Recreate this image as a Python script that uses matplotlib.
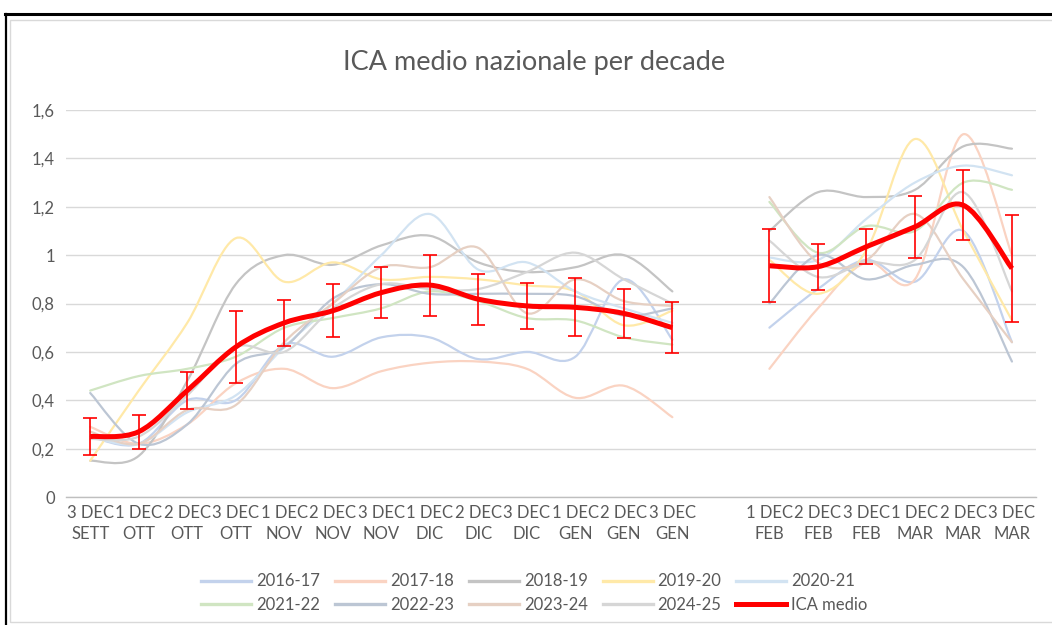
"""ICA medio nazionale per decade - smoothed season lines with mean and error bars."""

import numpy as np
import matplotlib
matplotlib.use("Agg")
import matplotlib.pyplot as plt
from matplotlib.path import Path
from matplotlib.patches import PathPatch, Rectangle
from matplotlib.lines import Line2D
from matplotlib.ticker import FuncFormatter

nan = np.nan

categories = [
    "3 DEC\nSETT", "1 DEC\nOTT", "2 DEC\nOTT", "3 DEC\nOTT",
    "1 DEC\nNOV", "2 DEC\nNOV", "3 DEC\nNOV",
    "1 DEC\nDIC", "2 DEC\nDIC", "3 DEC\nDIC",
    "1 DEC\nGEN", "2 DEC\nGEN", "3 DEC\nGEN", "",
    "1 DEC\nFEB", "2 DEC\nFEB", "3 DEC\nFEB",
    "1 DEC\nMAR", "2 DEC\nMAR", "3 DEC\nMAR",
]

s2016_17 = [0.25, 0.22, 0.40, 0.40, 0.63, 0.58, 0.66, 0.66, 0.57, 0.60, 0.58, 0.90, 0.65, nan, 0.70, 0.86, 0.98, 0.89, 1.10, 0.64]
s2017_18 = [0.29, 0.22, 0.30, 0.47, 0.53, 0.45, 0.52, 0.555, 0.56, 0.53, 0.41, 0.46, 0.33, nan, 0.53, 0.78, 0.97, 0.90, 1.50, 1.0]
s2018_19 = [0.15, 0.17, 0.48, 0.88, 1.00, 0.96, 1.04, 1.08, 0.97, 0.93, 0.95, 1.00, 0.85, nan, 1.10, 1.26, 1.24, 1.27, 1.45, 1.44]
s2019_20 = [0.15, 0.44, 0.72, 1.07, 0.89, 0.97, 0.90, 0.91, 0.90, 0.875, 0.85, 0.71, 0.77, nan, 0.98, 0.84, 1.02, 1.48, 1.10, 0.73]
s2020_21 = [0.25, 0.22, 0.35, 0.42, 0.62, 0.80, 1.00, 1.17, 0.94, 0.97, 0.85, 0.78, 0.72, nan, 0.99, 0.98, 1.15, 1.30, 1.37, 1.33]
s2021_22 = [0.44, 0.50, 0.53, 0.58, 0.70, 0.74, 0.78, 0.85, 0.81, 0.74, 0.73, 0.66, 0.63, nan, 1.22, 1.01, 1.12, 1.10, 1.30, 1.27]
s2022_23 = [0.43, 0.22, 0.30, 0.55, 0.62, 0.82, 0.88, 0.84, 0.84, 0.84, 0.83, 0.75, 0.78, nan, 0.80, 1.00, 0.90, 0.96, 0.95, 0.56]
s2023_24 = [0.27, 0.22, 0.36, 0.38, 0.64, 0.80, 0.95, 0.95, 1.03, 0.76, 0.90, 0.81, 0.79, nan, 1.24, 0.97, 0.98, 1.17, 0.90, 0.64]
s2024_25 = [0.24, 0.25, 0.42, 0.62, 0.60, 0.78, 0.88, 0.86, 0.86, 0.93, 1.01, 0.90, 0.80, nan, 1.06, 0.91, 0.97, 0.98, 1.26, 0.85]

ica_medio = [0.25, 0.27, 0.44, 0.62, 0.72, 0.77, 0.845, 0.876, 0.818, 0.79, 0.784, 0.759, 0.70, nan, 0.956, 0.952, 1.035, 1.117, 1.206, 0.945]
ica_err = [0.075, 0.07, 0.075, 0.15, 0.095, 0.11, 0.107, 0.126, 0.105, 0.095, 0.12, 0.10, 0.105, nan, 0.15, 0.095, 0.072, 0.128, 0.145, 0.222]

seasons = ["2016-17", "2017-18", "2018-19", "2019-20", "2020-21",
           "2021-22", "2022-23", "2023-24", "2024-25"]
season_values = [s2016_17, s2017_18, s2018_19, s2019_20, s2020_21,
                 s2021_22, s2022_23, s2023_24, s2024_25]
season_colors = ["#c3d2ec", "#fad3c2", "#c4c4c4", "#ffe9a8", "#d2e3f2",
                 "#d0e5c2", "#bcc6d4", "#e6d0c3", "#d6d6d6"]

TEXT = "#595959"
GRID = "#d9d9d9"

plt.rcParams["font.family"] = ["Lato", "DejaVu Sans"]


def smooth_path(x, y):
    """Excel-like smoothed line as cubic Bezier segments, broken at gaps."""
    x = np.asarray(x, dtype=float)
    y = np.asarray(y, dtype=float)
    verts, codes = [], []
    ok = ~np.isnan(y)
    runs, start = [], None
    for i, flag in enumerate(ok):
        if flag and start is None:
            start = i
        if not flag and start is not None:
            runs.append((start, i))
            start = None
    if start is not None:
        runs.append((start, len(y)))
    for a, b in runs:
        px, py = x[a:b], y[a:b]
        n = len(px)
        verts.append((px[0], py[0]))
        codes.append(Path.MOVETO)
        for i in range(n - 1):
            i0 = max(i - 1, 0)
            i3 = min(i + 2, n - 1)
            c1 = (px[i] + (px[i + 1] - px[i0]) / 6, py[i] + (py[i + 1] - py[i0]) / 6)
            c2 = (px[i + 1] - (px[i3] - px[i]) / 6, py[i + 1] - (py[i3] - py[i]) / 6)
            verts += [c1, c2, (px[i + 1], py[i + 1])]
            codes += [Path.CURVE4] * 3
    return Path(verts, codes)


fig = plt.figure(figsize=(10.52, 6.25), dpi=100, facecolor="white")
ax = fig.add_axes([0.0627, 0.2048, 0.985 - 0.0627, 0.824 - 0.2048])

x = np.arange(len(categories))
for name, values, color in zip(seasons, season_values, season_colors):
    ax.add_patch(PathPatch(smooth_path(x, values), fill=False, edgecolor=color,
                           linewidth=1.6, zorder=2, capstyle="round"))

ax.add_patch(PathPatch(smooth_path(x, ica_medio), fill=False, edgecolor="#ff0000",
                       linewidth=3.6, zorder=4, joinstyle="round"))
ax.errorbar(x, ica_medio, yerr=ica_err, fmt="none", ecolor="#ff0000",
            elinewidth=1.2, capsize=4.8, capthick=1.2, zorder=5)

ax.set_xlim(-0.5, len(categories) - 0.5)
ax.set_ylim(0, 1.6)
ax.set_yticks(np.arange(0, 1.61, 0.2))
ax.yaxis.set_major_formatter(FuncFormatter(
    lambda v, _: f"{v:.1f}".rstrip("0").rstrip(".").replace(".", ",") if v else "0"))
ax.set_xticks(x)
ax.set_xticklabels(categories, linespacing=1.35)
ax.tick_params(axis="both", length=0, labelsize=12, colors=TEXT)
ax.tick_params(axis="x", pad=6)
ax.tick_params(axis="y", pad=8)
ax.grid(axis="y", color=GRID, linewidth=1.0)
ax.set_axisbelow(True)
for side in ("top", "right", "left"):
    ax.spines[side].set_visible(False)
ax.spines["bottom"].set_color("#bfbfbf")
ax.spines["bottom"].set_linewidth(1.0)

fig.text(0.508, 0.90, "ICA medio nazionale per decade", ha="center", va="center",
         fontsize=19.5, color=TEXT)

# legend filled row by row, as in the original
handles = [Line2D([0], [0], color=c, linewidth=2.4) for c in season_colors]
handles.append(Line2D([0], [0], color="#ff0000", linewidth=3.6))
labels = seasons + ["ICA medio"]
order = [0, 5, 1, 6, 2, 7, 3, 8, 4, 9]
fig.legend(handles=[handles[i] for i in order], labels=[labels[i] for i in order],
           loc="center", bbox_to_anchor=(0.508, 0.051),
           ncol=5, frameon=False, fontsize=12, labelcolor=TEXT, handlelength=3.0,
           handletextpad=0.3, columnspacing=0.9, labelspacing=0.45)

# chart frame and the black clipping border of the screenshot
fig.patches.append(Rectangle((10 / 1052, 3 / 625), 1.1, 602 / 625, transform=fig.transFigure,
                             fill=False, edgecolor="#d9d9d9", linewidth=1.0))
fig.add_artist(Line2D([5 / 1052, 1.0], [611 / 625, 611 / 625], transform=fig.transFigure,
                      color="black", linewidth=2.2))
fig.add_artist(Line2D([6 / 1052, 6 / 1052], [0.0, 611 / 625], transform=fig.transFigure,
                      color="black", linewidth=1.6))

fig.savefig("out.png", dpi=100, facecolor="white")
